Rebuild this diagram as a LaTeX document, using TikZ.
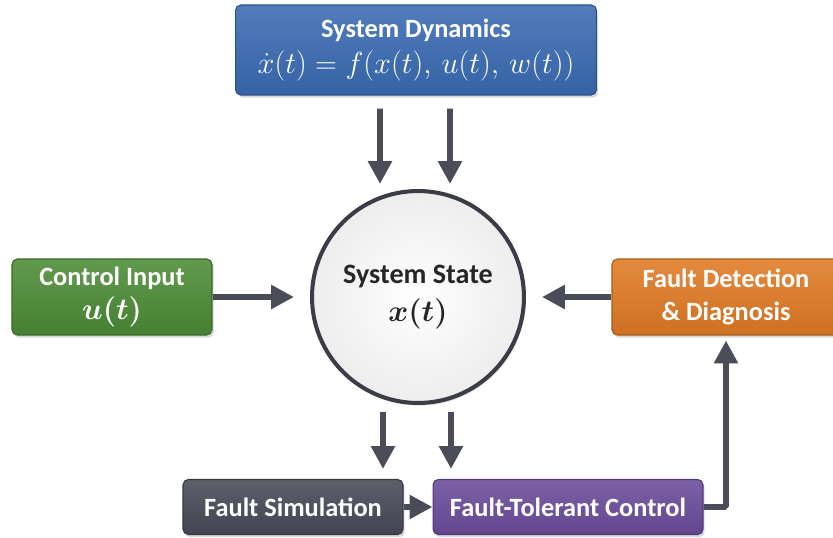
\documentclass[tikz,border=0pt]{standalone}
\usepackage{fontspec}
\setmainfont{Carlito}
\usetikzlibrary{arrows.meta,positioning,calc,shadows}
\definecolor{dynblue}{HTML}{3A6BB3}
\definecolor{ctrlgreen}{HTML}{4C8B36}
\definecolor{fddorange}{HTML}{E07A24}
\definecolor{simgray}{HTML}{474A57}
\definecolor{ftcpurple}{HTML}{6B4C9B}
\definecolor{arrgray}{HTML}{4A4D58}
\definecolor{rimgray}{HTML}{3A3D45}

\begin{document}
\begin{tikzpicture}[
        x=0.02cm, y=-0.02cm,
        box/.style={draw=#1!75!black, line width=0.6pt, rounded corners=3pt,
            top color=#1!88!white, bottom color=#1!92!black,
            text=white, align=center, font=\fontsize{15}{19}\selectfont\bfseries\boldmath,
            drop shadow={opacity=0.3, shadow xshift=1pt, shadow yshift=-1.5pt}},
        state/.style={circle, draw=rimgray, line width=2.3pt, minimum size=4.24cm,
            inner color=white, outer color=gray!14, text=black!85, align=center,
            font=\fontsize{16}{22}\selectfont\bfseries\boldmath,
            drop shadow={opacity=0.25, shadow xshift=1pt, shadow yshift=-1.5pt}},
        arr/.style={-{Triangle[length=13pt, width=13pt]}, line width=3.4pt, draw=arrgray}
    ]
    \useasboundingbox (0,0) rectangle (833,538);

    \node[box=dynblue, minimum width=7.22cm, minimum height=1.8cm] (dyn) at (416,50)
        {System Dynamics\\[2pt] {\fontsize{16}{19}\selectfont\unboldmath $\dot{x}(t) = f(x(t),\, u(t),\, w(t))$}};
    \node[state] (st) at (418,297) {System State\\ {\fontsize{18}{20}\selectfont $x(t)$}};

    \node[box=ctrlgreen, minimum width=4cm, minimum height=1.52cm] (ctrl) at (112,297)
        {Control Input\\ {\fontsize{18}{20}\selectfont $u(t)$}};
    \node[box=fddorange, minimum width=4.56cm, minimum height=1.52cm] (fdd) at (726,297)
        {Fault Detection\\ \& Diagnosis};

    \node[box=simgray, minimum width=4.4cm, minimum height=1.1cm] (fsim) at (293,507) {Fault Simulation};
    \node[box=ftcpurple, minimum width=5.4cm, minimum height=1.1cm] (ftc) at (568,507) {Fault-Tolerant Control};

    % dynamics into state
    \draw[arr] ([xshift=-0.72cm, yshift=-0.26cm]dyn.south) -- ([xshift=-0.76cm, yshift=0.1cm]st.north);
    \draw[arr] ([xshift=0.68cm, yshift=-0.26cm]dyn.south) -- ([xshift=0.64cm, yshift=0.1cm]st.north);

    % side inputs
    \draw[arr, shorten >=0.32cm] (ctrl) -- (st);
    \draw[arr, shorten >=0.32cm] (fdd) -- (st);

    % state down to the fault blocks
    \draw[arr] ([xshift=-0.7cm, yshift=-0.14cm]st.south) -- ([xshift=1.8cm, yshift=0.2cm]fsim.north);
    \draw[arr] ([xshift=0.66cm, yshift=-0.14cm]st.south) -- ([xshift=-2.34cm, yshift=0.2cm]ftc.north);

    \draw[arr] (fsim) -- (ftc);
    \draw[arr, shorten >=0.1cm, rounded corners=1pt] (ftc.east) -| (fdd.south);
\end{tikzpicture}
\end{document}
